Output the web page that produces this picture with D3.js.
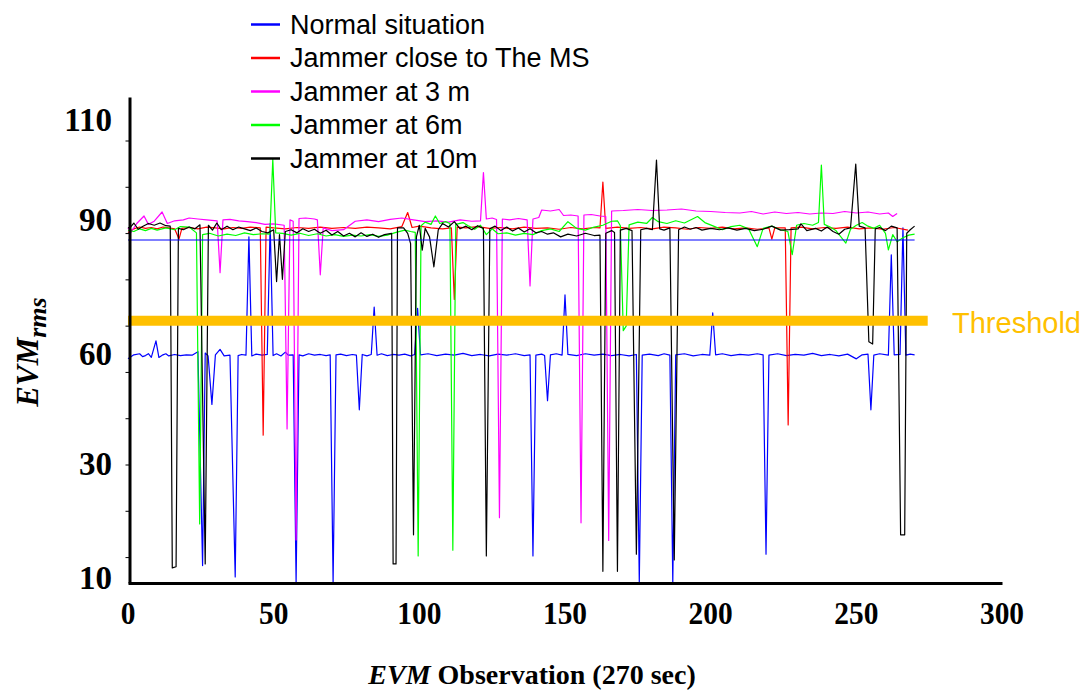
<!DOCTYPE html>
<html>
<head>
<meta charset="utf-8">
<script src="https://cdn.jsdelivr.net/npm/d3@7"></script>
<style>
  body { margin: 0; background: #fff; }
  svg { display: block; }
  .serif { font-family: "Liberation Serif", "Times New Roman", serif; font-weight: bold; }
  .sans { font-family: "Liberation Sans", Arial, sans-serif; }
</style>
</head>
<body>
<div id="chart"></div>
<script>
// chart data, [second, EVM] pairs
var seriesNames = ["Normal situation", "Jammer close to The MS", "Jammer at 3 m", "Jammer at 6m", "Jammer at 10m"];
var seriesColors = ["#0000ff", "#ff0000", "#ff00ff", "#00ff00", "#000000"];

var normal = [[0,58.4],[2,59.5],[4,59.8],[5,59],[6,59.3],[7,59.8],[8,58.8],[9.6,62.7],[10.6,58.8],[12,59.5],[13,59.8],[14,59.2],[16,59.6],[18,59.3],[20,59.5],[22,59.4],[24,60.3],[25.6,12],[26.5,60],[27.5,59.2],[28.8,46],[30,59.5],[31.6,60.8],[33,59.2],[35,59.4],[36.8,10],[37.8,59.3],[39,59.6],[40.5,59.4],[41.5,86],[42.5,59.2],[44,59.7],[46,59.4],[47.8,59.6],[48.8,89],[49.8,59.3],[51,59.8],[52.5,59.2],[54,60.2],[55,59.4],[56.7,59.5],[57.7,9],[58.7,59.5],[60,59.2],[62,59.8],[64,59.4],[66,59.6],[68,59.3],[69.4,59.5],[70.4,9],[71.4,59.5],[73,59.7],[75,59.3],[77,59.6],[78.4,59.4],[79.4,44.5],[80.4,59.6],[82,59.2],[83.5,59.6],[84.5,70.3],[85.5,59.4],[87,59.8],[89,59.3],[91,59.6],[93,59.4],[95,59.7],[97,59.2],[98.4,59.6],[99.4,70],[100.4,59.5],[103,59.8],[106,59.3],[109,59.7],[112,59.4],[115,59.9],[118,59.3],[121,59.6],[124,59.2],[127,59.7],[130,59.4],[133,59.8],[136,59.3],[138,59.5],[139,13.7],[140,59.4],[142,59.7],[143,59.3],[144,47],[145,59.5],[147,59.8],[149,59.4],[150,73],[151,59.6],[154,59.3],[157,59.8],[160,59.4],[163,59.7],[166,59.3],[169,59.6],[172,59.2],[174.5,59.6],[175.5,9],[176.5,59.4],[179,59.7],[182,59.3],[184,59.8],[186,59.4],[187,9],[188,59.5],[191,59.8],[194,59.2],[197,59.6],[199.7,59.4],[200.7,69],[201.7,59.5],[204,59.8],[207,59.3],[210,59.6],[213,59.4],[216,59.8],[218,59.5],[219,14],[220,59.4],[223,59.8],[226,59.3],[229,59.6],[232,59.4],[235,59.9],[238,59.3],[241,59.6],[244,59.2],[247,59.7],[250,58.4],[252,59.5],[254,59.7],[255,44.5],[256,59.4],[258,59.8],[261,59.4],[262,82],[263,59.5],[265,59.6],[266,88],[267,59.4],[268.5,59.7],[270,59.5]];
var normalRef = [[0,85.3],[270,85.3]];

var jamClose = [[0,87],[2,87.8],[4,88.2],[6,87.9],[8,88.1],[10,87.8],[12,88.2],[14,88],[16,87.8],[17.5,85.5],[18.5,87.9],[21,88.1],[24,87.8],[27,88.2],[30,88],[33,87.8],[36,88.1],[39,87.9],[42,88.2],[45.4,88],[46.4,37.6],[47.4,88.2],[50,88],[54,87.8],[58,88.1],[62,87.9],[66,88.2],[70,87.9],[74,88.1],[78,87.9],[82,88.2],[86,88],[90,87.8],[94,88.3],[96,91.3],[97.5,88.1],[100,88.4],[104,88],[108,87.8],[111,88],[112,72],[113,88.2],[116,88],[120,88.3],[124,87.9],[128,88.1],[132,87.8],[136,88.2],[140,87.9],[144,88],[148,87.7],[152,88.1],[156,87.8],[160,88.1],[162,88],[163,97.4],[164,87.9],[168,88.2],[172,87.9],[176,88.1],[180,87.8],[184,88.2],[188,88],[192,87.7],[196,88.1],[200,87.9],[204,88.2],[208,87.8],[212,88],[216,87.7],[220,88],[221,85.5],[222,88],[225.6,88],[226.6,40.4],[227.6,88],[231,88.2],[235,87.8],[239,88.1],[243,87.9],[247,88.2],[251,87.8],[255,88],[259,87.7],[263,88.1],[267.7,87.5]];

var jam3m = [[0,88],[1,87],[3,89],[5.5,90.6],[7,88.8],[9,89.5],[11.7,91.4],[13.5,89],[16,89.6],[19,89.8],[21,90.2],[24,90],[27,89.8],[30.6,89.6],[31.6,78],[32.6,89.8],[35,89.9],[38,89.6],[41,89.4],[44,89.2],[47,88.8],[50,88.9],[53.6,88.6],[54.6,39.3],[55.6,89.8],[56.7,89.5],[57.7,16.5],[58.7,90.1],[61,90.2],[64,90],[65,89.8],[66,77.5],[67,88],[70,87.4],[74,87.6],[78,89.5],[82,89.8],[86,89.4],[90,89.9],[94,90.2],[98,89.8],[102,89.4],[106,89.6],[110,89.3],[114,89.8],[118,89.5],[121,89.6],[122,99.3],[123,90],[125,90.2],[126.5,89.9],[127.5,20.4],[128.5,90],[131,89.8],[134,90.1],[137,89.8],[138,75],[139,90],[141,90.3],[142,91.8],[145,91.6],[148,91.9],[149.5,90.7],[152,90.8],[154.5,90.6],[155.5,19.5],[156.5,90.8],[159,90.9],[162,90.6],[164,90.5],[165,16.4],[166,91.6],[170,91.7],[175,91.9],[180,91.7],[185,91.8],[190,92],[195,91.6],[200,91.5],[205,91.3],[210,91.2],[214,91.5],[218,91],[222,91.4],[226,91.1],[230,91.3],[234,91],[238,91.2],[242,91.1],[246,91.5],[250,91.2],[254,91.4],[258,91],[261,91.2],[262.5,90.5],[264,91.1]];

var jam6m = [[0,87.5],[2,87.2],[4,87.8],[6,87.4],[8,87.9],[10,87.5],[13,88],[16,87.6],[18,88.3],[21,88.2],[23.5,86.9],[24.6,19.3],[25.6,86.5],[28,86.8],[31,86.2],[34,86.6],[37,86.3],[40,86.9],[43,86.5],[46,86.7],[48.7,86.6],[49.7,102],[50.7,86.9],[53,86.8],[56,86.4],[59,86.8],[62,86.3],[65,86.7],[68,86.2],[71,86.5],[74,86.1],[77,86.4],[80,86.2],[83,86.5],[86,86.1],[89,86.4],[92,87],[95,87.5],[97,87.2],[98.6,87],[99.6,13.7],[100.6,88.5],[102,89.3],[104,88.8],[105.5,90.6],[107,89],[109,89.4],[110.5,89],[111.5,14.7],[112.5,88.8],[115,89.2],[117,88.4],[119,87.7],[121,88.6],[123,86.5],[125,87.8],[127,86.7],[130,86.9],[133,86.4],[136,86.8],[139,86.5],[142,87.4],[145,87.8],[148,87.2],[151,89.4],[154,87.9],[157,87.5],[160,88.2],[163,88.6],[166,89.5],[168,89.6],[169,88.5],[170,65],[171,66],[172,88.7],[175,89.3],[178,89],[180,90.3],[182,89.4],[185,89],[188,89.6],[191,89.1],[195.5,90.5],[198,89.2],[201,88.4],[204,87.6],[207,88.3],[210,88.6],[213,87.8],[216,83.8],[218,87.9],[221,88.4],[224,87.6],[226.5,87.2],[228,82],[229.5,88.6],[232,89],[235,88.6],[237,89.2],[238,100.8],[239,88.8],[241,88.2],[243,87.4],[246.4,84.6],[248,87.7],[250,88.6],[252,89.2],[254,88.4],[256,87.9],[258,88.6],[260,86.8],[261,83.1],[262.5,86.5],[264,84.9],[266,85.8],[268,86.4],[270,86.6]];

var jam10m = [[0,88],[1,88.3],[2,89.1],[3.5,87.7],[5,88.3],[7,89],[9,88.6],[11,89.1],[13,88.5],[14.5,88.4],[15.2,11.6],[16.5,11.8],[17.3,87.9],[19,87.6],[21,88.2],[23,87.8],[24.7,88.7],[26.5,12.3],[27.6,88.6],[29,87.5],[30.5,89.1],[32,87.6],[34,88.4],[36,87.6],[38,88.2],[40,87.8],[42,87.4],[44,88],[46,87.2],[48,86.9],[50,87.6],[51,76],[52,86.5],[53,76.5],[54,87.2],[56,87.6],[58,86.9],[60,87.8],[62,87.2],[64,87.7],[66,86.8],[68,87.5],[70,86.4],[72,87.2],[74,86.2],[76,86.8],[78,86],[80,86.9],[82,86.1],[84,86.6],[86,85.9],[88,86.5],[90.5,86.8],[91,12.3],[92,12.3],[92.5,88],[94.6,88],[96,86.8],[97,84.5],[98,17.4],[99,86],[100,88.6],[101,83],[102,87.9],[103.5,86],[105,79.3],[106.5,87.6],[108,89],[110,88.2],[112,89.4],[114,87.8],[116,88.4],[118,87.6],[120,88.5],[122,87.9],[123,13.7],[124.2,87.8],[126,88.4],[128,87.4],[130,88.2],[132,87.3],[134,88],[136,87.1],[138,87.8],[140,86.9],[142,87.2],[144,86.6],[146,86.9],[148.5,86],[151,86.6],[154,86.2],[157,86.8],[160,86.3],[162,86.4],[163,11],[164,86.8],[166,87.4],[167,87],[168,11],[169,87.5],[171,87.9],[173,87.4],[174.5,14],[176,87.6],[178,87.9],[180,87.6],[181.4,101.8],[182.5,87.8],[184,87.5],[186,88],[187.5,13],[189,87.6],[191,88.2],[193,87.7],[195,88.1],[197,87.5],[200,87.9],[203,87.6],[206,88],[209,87.5],[212,87.9],[215,87.4],[218,87.7],[221,88.4],[224,87.5],[227,87.6],[230,87.8],[231,88.9],[233,87.4],[236,87.9],[238,87.3],[240,88.2],[242,87.2],[244,86.6],[246,87.7],[248,88],[249.8,101],[251,88.4],[253,88],[254.3,62.5],[255.6,62],[256.5,87.8],[258,88.1],[260,87.4],[262,88.4],[264,88],[265.2,17.4],[266.6,17.4],[267.3,86.8],[268.5,87.6],[270,88.4]];

var allSeries = [normal, jamClose, jam3m, jam6m, jam10m];

var xTicks = [0, 50, 100, 150, 200, 250, 300];
var yLabels = [10, 30, 60, 90, 110];
var threshold = 67.2;
var thresholdSpan = [0, 274.5];

var width = 1092,
    height = 692;

var svg = d3.select('#chart').append('svg')
            .attr('width', width)
            .attr('height', height);

var x = d3.scaleLinear().domain([0, 300]).range([128, 1002]);
// the y labels in the original are not evenly spaced, so the scale is piecewise
var y = d3.scaleLinear().domain(yLabels).range([577, 463, 353, 219, 119]);
// minor tick marks along the y axis are evenly spaced
var yTick = d3.scaleLinear().domain([-0.56, 9.94]).range([583, 97]);

var line = d3.line()
             .x(d => x(d[0]))
             .y(d => y(d[1]));

// series lines
svg.append('g')
   .selectAll('path')
   .data(allSeries)
   .enter().append('path')
   .attr('d', line)
   .attr('fill', 'none')
   .attr('stroke', (d, i) => seriesColors[i])
   .attr('stroke-width', 1.2)
   .attr('stroke-linejoin', 'round');

svg.append('path')
   .datum(normalRef)
   .attr('d', line)
   .attr('fill', 'none')
   .attr('stroke', seriesColors[0])
   .attr('stroke-width', 1.2);

// threshold bar
svg.append('line')
   .attr('x1', x(thresholdSpan[0])).attr('x2', x(thresholdSpan[1]))
   .attr('y1', y(threshold)).attr('y2', y(threshold))
   .attr('stroke', '#ffc000')
   .attr('stroke-width', 10);

svg.append('text')
   .attr('class', 'sans')
   .attr('x', 952)
   .attr('y', y(threshold) + 12)
   .attr('font-size', 29)
   .attr('fill', '#ffc000')
   .text('Threshold');

// axes
var yAxis = svg.append('g')
   .attr('transform', 'translate(129.5,0)')
   .call(d3.axisLeft(yTick).tickValues(d3.range(10)).tickSize(4).tickSizeOuter(0).tickFormat(''));
yAxis.select('.domain').attr('stroke-width', 3);

var xAxis = svg.append('g')
   .attr('transform', 'translate(0,583)')
   .call(d3.axisBottom(x).tickValues(xTicks).tickSize(0).tickFormat(''));
xAxis.select('.domain').attr('stroke-width', 3);

svg.append('g')
   .selectAll('text')
   .data(yLabels)
   .enter().append('text')
   .attr('class', 'serif')
   .attr('x', 112)
   .attr('y', d => y(d))
   .attr('dy', '0.35em')
   .attr('text-anchor', 'end')
   .attr('font-size', 33)
   .text(d => d);

svg.append('g')
   .selectAll('text')
   .data(xTicks)
   .enter().append('text')
   .attr('class', 'serif')
   .attr('transform', d => 'translate(' + x(d) + ',624) scale(0.92,1)')
   .attr('text-anchor', 'middle')
   .attr('font-size', 32)
   .text(d => d);

// axis titles
var xt = svg.append('text')
   .attr('class', 'serif')
   .attr('x', 532)
   .attr('y', 684)
   .attr('text-anchor', 'middle')
   .attr('font-size', 28);
xt.append('tspan').attr('font-style', 'italic').text('EVM');
xt.append('tspan').text(' Observation (270 sec)');

var yt = svg.append('text')
   .attr('class', 'serif')
   .attr('transform', 'translate(38,352) rotate(-90)')
   .attr('text-anchor', 'middle')
   .attr('font-style', 'italic')
   .attr('font-size', 31);
yt.append('tspan').text('EVM');
yt.append('tspan').attr('font-size', 26).attr('dy', 8).text('rms');

// legend
var legend = svg.append('g').attr('class', 'sans');
var rows = legend.selectAll('g')
   .data(seriesNames)
   .enter().append('g')
   .attr('transform', (d, i) => 'translate(251,' + (24.5 + 33.5 * i) + ')');
rows.append('line')
   .attr('x1', 0).attr('x2', 29)
   .attr('stroke', (d, i) => seriesColors[i])
   .attr('stroke-width', 2.5);
rows.append('text')
   .attr('x', 39)
   .attr('y', 9)
   .attr('font-size', 27)
   .attr('fill', '#000')
   .text(d => d);
</script>
</body>
</html>
